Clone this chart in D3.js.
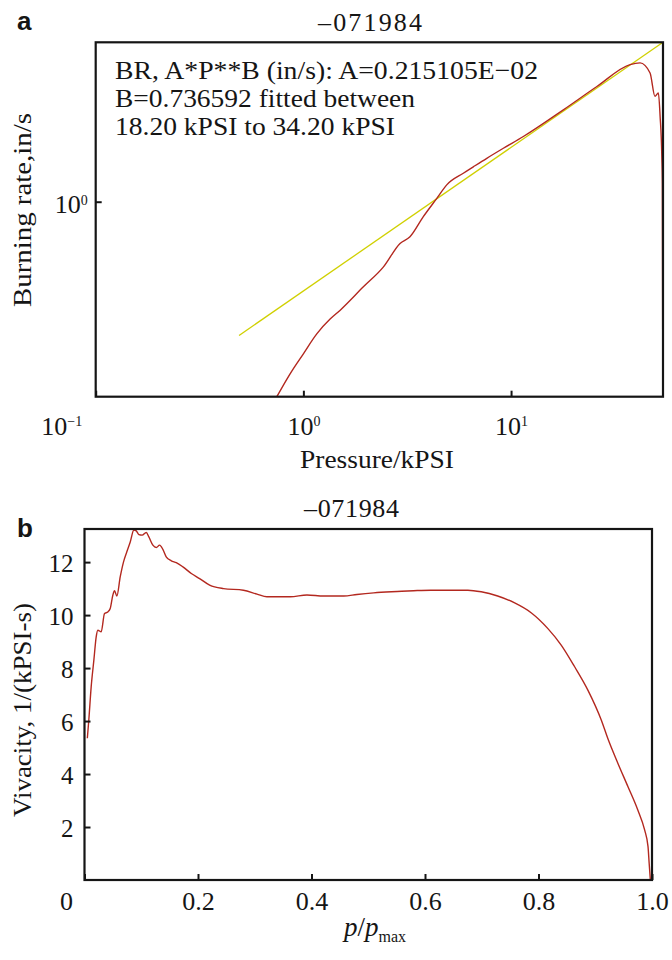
<!DOCTYPE html>
<html>
<head>
<meta charset="utf-8">
<script src="https://cdn.jsdelivr.net/npm/d3@7"></script>
<style>
  body { margin: 0; background: #fff; }
</style>
</head>
<body>
<div id="chart"></div>
<script>
//********************* DATA ************************************

// panel a : burning rate (in/s) against pressure (kPSI), log-log
var pressure = [0.745, 0.863, 1.00, 1.16, 1.345, 1.50, 1.945, 2.43, 2.92, 3.26, 3.78, 4.39, 4.90,
                5.89, 6.58, 7.64, 9.18, 11.46, 17.86, 25.9, 37.4, 41.8, 46.7, 49.3, 51.2, 52.2,
                53.2, 53.5, 53.8];
var burnRate = [0.100, 0.131, 0.166, 0.210, 0.250, 0.277, 0.366, 0.463, 0.611, 0.661, 0.838, 1.04, 1.22,
                1.40, 1.51, 1.67, 1.88, 2.16, 2.96, 3.90, 5.05, 5.15, 4.57, 3.47, 3.61, 2.74,
                1.70, 1.24, 0.100];
// fitted power law, drawn as a straight line between its two visible ends
var fitPressure = [0.49, 53.9];
var fitRate = [0.206, 6.57];
var xTicksA = [0.1, 1, 10];
var yTicksA = [1];
var fitNote = ["BR, A*P**B (in/s): A=0.215105E\u221202",
               "B=0.736592 fitted between",
               "18.20 kPSI to 34.20 kPSI"];
var runTitle = "\u2013071984";

// panel b : vivacity against p/pmax
var pRatio = [0.005, 0.0076, 0.0118, 0.0165, 0.0206, 0.0235, 0.0294, 0.0353, 0.0411, 0.0453, 0.0499,
              0.0529, 0.057, 0.063, 0.0688, 0.0746, 0.0806, 0.087, 0.0912, 0.0958, 0.1017, 0.1088,
              0.1134, 0.1205, 0.1265, 0.1323, 0.1381, 0.144, 0.1529, 0.1617, 0.1734, 0.1882, 0.2028,
              0.2205, 0.245, 0.280, 0.304, 0.3215, 0.3628, 0.392, 0.4215, 0.4568, 0.480, 0.5097,
              0.551, 0.580, 0.6097, 0.640, 0.6755, 0.699, 0.728, 0.758, 0.787, 0.8166, 0.840,
              0.8637, 0.887, 0.9106, 0.922, 0.940, 0.9577, 0.975, 0.987, 0.993, 0.995, 0.997];
var vivacity = [5.35, 6.04, 7.30, 8.30, 9.18, 9.43, 9.37, 10.06, 10.12, 10.25, 10.75,
                10.92, 10.72, 11.45, 12.01, 12.39, 12.76, 13.21, 13.18, 13.04, 13.02, 13.12,
                12.95, 12.64, 12.55, 12.64, 12.48, 12.2, 12.05, 11.98, 11.82, 11.57, 11.38,
                11.13, 11.0, 10.94, 10.79, 10.69, 10.69, 10.76, 10.72, 10.72, 10.78, 10.84,
                10.89, 10.92, 10.94, 10.94, 10.94, 10.88, 10.72, 10.46, 10.09, 9.49, 8.87,
                8.05, 7.17, 6.04, 5.35, 4.40, 3.52, 2.64, 1.89, 1.26, 0.63, 0.03];
var xTicksB = [0, 0.2, 0.4, 0.6, 0.8, 1.0];
var yTicksB = [2, 4, 6, 8, 10, 12];


//********************* CANVAS ************************************

var W = 672, H = 960;
var red = "#b3281f", yellow = "#d0d000", ink = "#151515";
var serif = "Liberation Serif", sans = "Liberation Sans";

var svg = d3.select("#chart").append("svg")
    .attr("width", W)
    .attr("height", H)
    .attr("font-family", serif);

svg.append("rect").attr("width", W).attr("height", H).attr("fill", "#fff");

function superLabel(sel, d) {
  var e = Math.round(Math.log10(d));
  sel.text("");
  sel.append("tspan").text("10");
  sel.append("tspan").attr("dy", "-0.6em").attr("font-size", 14)
      .text(e < 0 ? "\u2212" + (-e) : e);
}

function label(x, y, size) {
  return svg.append("text")
      .attr("x", x).attr("y", y)
      .attr("font-size", size)
      .attr("fill", ink)
      .attr("font-family", serif);
}


//********************* PANEL A ************************************

var boxA = {left: 95.7, right: 663, top: 42.3, bottom: 396.7};

var xA = d3.scaleLog().domain([0.1, 53.9]).range([boxA.left, boxA.right]);
var yA = d3.scaleLog().domain([0.1, 6.57]).range([boxA.bottom, boxA.top]);

svg.append("clipPath").attr("id", "clipA")
  .append("rect")
    .attr("x", boxA.left).attr("y", boxA.top)
    .attr("width", boxA.right - boxA.left).attr("height", boxA.bottom - boxA.top);

var lineA = d3.line()
    .x(function(d) { return xA(d[0]); })
    .y(function(d) { return yA(d[1]); });

svg.append("path")
    .datum(d3.zip(fitPressure, fitRate))
    .attr("clip-path", "url(#clipA)")
    .attr("d", lineA)
    .attr("fill", "none")
    .attr("stroke", yellow)
    .attr("stroke-width", 1.3);

svg.append("path")
    .datum(d3.zip(pressure, burnRate))
    .attr("clip-path", "url(#clipA)")
    .attr("d", lineA.curve(d3.curveMonotoneX))
    .attr("fill", "none")
    .attr("stroke", red)
    .attr("stroke-width", 1.4);

var gxA = svg.append("g")
    .attr("transform", "translate(0," + boxA.bottom + ")")
    .call(d3.axisBottom(xA).tickValues(xTicksA).tickFormat("").tickSizeInner(-6).tickSizeOuter(0));
gxA.selectAll(".tick text").each(function(d) { superLabel(d3.select(this), d); })
    .attr("y", 38).attr("dy", null).attr("font-size", 26)
    .filter(function(d) { return d === 0.1; })
    .attr("text-anchor", "end").attr("x", -14);

var gyA = svg.append("g")
    .attr("transform", "translate(" + boxA.left + ",0)")
    .call(d3.axisLeft(yA).tickValues(yTicksA).tickFormat("").tickSizeInner(-6).tickSizeOuter(0).tickPadding(8));
gyA.selectAll(".tick text").each(function(d) { superLabel(d3.select(this), d); })
    .attr("dy", "0.42em").attr("font-size", 26);

[gxA, gyA].forEach(function(g) {
  g.select(".domain").remove();
  g.attr("font-family", serif).attr("font-size", null);
  g.selectAll(".tick text").attr("fill", ink).attr("font-family", serif);
  g.selectAll(".tick line").attr("stroke", ink).attr("stroke-width", 2);
});

svg.append("rect")
    .attr("x", boxA.left).attr("y", boxA.top)
    .attr("width", boxA.right - boxA.left).attr("height", boxA.bottom - boxA.top)
    .attr("fill", "none").attr("stroke", ink).attr("stroke-width", 2.2);

label(370, 31, 26).attr("text-anchor", "middle")
    .attr("textLength", 104).text(runTitle);

var noteLens = [423, 300, 280];
fitNote.forEach(function(d, i) {
  label(115, 79 + i * 28, 26)
      .attr("textLength", noteLens[i])
      .attr("lengthAdjust", "spacingAndGlyphs")
      .text(d);
});

label(377, 468, 26).attr("text-anchor", "middle")
    .attr("textLength", 154).attr("lengthAdjust", "spacingAndGlyphs")
    .text("Pressure/kPSI");

label(0, 0, 26)
    .attr("transform", "translate(31,210) rotate(-90)")
    .attr("text-anchor", "middle")
    .attr("textLength", 194).attr("lengthAdjust", "spacingAndGlyphs")
    .text("Burning rate,in/s");

label(17, 30, 26)
    .attr("font-family", sans)
    .attr("font-weight", "bold").text("a");


//********************* PANEL B ************************************

var boxB = {left: 84.5, right: 652, top: 529, bottom: 880};

var xB = d3.scaleLinear().domain([0, 1]).range([boxB.left, boxB.right]);
var yB = d3.scaleLinear().domain([0, 13.25]).range([boxB.bottom, boxB.top]);

svg.append("clipPath").attr("id", "clipB")
  .append("rect")
    .attr("x", boxB.left).attr("y", boxB.top)
    .attr("width", boxB.right - boxB.left).attr("height", boxB.bottom - boxB.top);

var lineB = d3.line()
    .x(function(d) { return xB(d[0]); })
    .y(function(d) { return yB(d[1]); })
    .curve(d3.curveMonotoneX);

svg.append("path")
    .datum(d3.zip(pRatio, vivacity))
    .attr("clip-path", "url(#clipB)")
    .attr("d", lineB)
    .attr("fill", "none")
    .attr("stroke", red)
    .attr("stroke-width", 1.4);

var gxB = svg.append("g")
    .attr("transform", "translate(0," + boxB.bottom + ")")
    .call(d3.axisBottom(xB).tickValues(xTicksB).tickSizeInner(-6).tickSizeOuter(0)
      .tickFormat(function(d) { return d === 0 ? "0" : d3.format(".1f")(d); }));
gxB.selectAll(".tick text")
    .attr("y", 30).attr("dy", null).attr("font-size", 26)
    .filter(function(d) { return d === 0; })
    .attr("text-anchor", "end").attr("x", -12);

var gyB = svg.append("g")
    .attr("transform", "translate(" + boxB.left + ",0)")
    .call(d3.axisLeft(yB).tickValues(yTicksB).tickSizeInner(-6).tickSizeOuter(0).tickPadding(11));
gyB.selectAll(".tick text").attr("dy", "0.36em").attr("font-size", 25);

[gxB, gyB].forEach(function(g) {
  g.select(".domain").remove();
  g.attr("font-family", serif).attr("font-size", null);
  g.selectAll(".tick text").attr("fill", ink).attr("font-family", serif);
  g.selectAll(".tick line").attr("stroke", ink).attr("stroke-width", 2);
});

svg.append("rect")
    .attr("x", boxB.left).attr("y", boxB.top)
    .attr("width", boxB.right - boxB.left).attr("height", boxB.bottom - boxB.top)
    .attr("fill", "none").attr("stroke", ink).attr("stroke-width", 2.2);

label(351.5, 517, 26).attr("text-anchor", "middle")
    .attr("textLength", 95).text(runTitle);

var xLab = label(375, 936, 27).attr("text-anchor", "middle");
xLab.append("tspan").attr("font-style", "italic").text("p");
xLab.append("tspan").text("/");
xLab.append("tspan").attr("font-style", "italic").text("p");
xLab.append("tspan").attr("font-size", 16).attr("dy", "0.35em").text("max");

label(0, 0, 26)
    .attr("transform", "translate(31,710) rotate(-90)")
    .attr("text-anchor", "middle")
    .attr("textLength", 214).attr("lengthAdjust", "spacingAndGlyphs")
    .text("Vivacity, 1/(kPSI-s)");

label(17, 537, 26)
    .attr("font-family", sans)
    .attr("font-weight", "bold").text("b");
</script>
</body>
</html>
